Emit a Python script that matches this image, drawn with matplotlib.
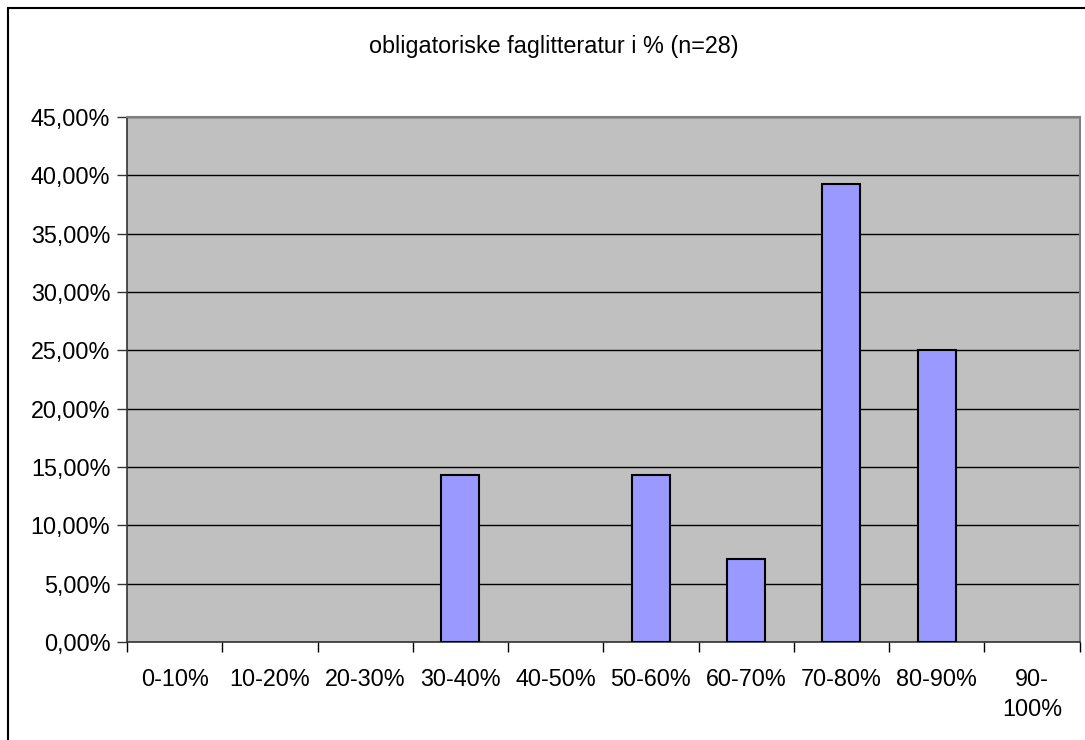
import matplotlib
matplotlib.use('Agg')
import matplotlib.pyplot as plt
import matplotlib.patches as patches
from matplotlib.ticker import FuncFormatter, MultipleLocator

# kategorier og andel (%) av 28 svar
categories = ['0-10%', '10-20%', '20-30%', '30-40%', '40-50%',
              '50-60%', '60-70%', '70-80%', '80-90%', '90-\n100%']
shares = [0.0, 0.0, 0.0, 14.29, 0.0, 14.29, 7.14, 39.29, 25.0, 0.0]
title = 'obligatoriske faglitteratur i % (n=28)'

plt.rcParams['font.family'] = ['Liberation Sans', 'DejaVu Sans']
FS = 16.8

W, H = 1085, 740
fig = plt.figure(figsize=(W / 100, H / 100), dpi=100)

# plotområde i piksler
left, right, top, bottom = 127, 1079.5, 117, 642
ax = fig.add_axes([left / W, 1 - bottom / H, (right - left) / W, (bottom - top) / H])
ax.set_facecolor('#C0C0C0')

x = list(range(len(categories)))
# tomme kategorier får ingen kantlinje (som i Excel)
lw = [1.5 if v > 0 else 0 for v in shares]
ax.bar(x, shares, width=0.4, color='#9999FF', edgecolor='black', linewidth=lw, zorder=3)

ax.set_xlim(-0.5, len(categories) - 0.5)
ax.set_ylim(0, 45)
ax.yaxis.set_major_locator(MultipleLocator(5))
ax.yaxis.set_major_formatter(FuncFormatter(lambda v, p: f'{v:.2f}%'.replace('.', ',')))
ax.grid(axis='y', color='black', linewidth=1, zorder=1)

# akse-ticks på kategorigrenser, etiketter i midten
ax.set_xticks([i - 0.5 for i in range(len(categories) + 1)])
ax.set_xticklabels([])
ax.set_xticks(x, minor=True)
ax.set_xticklabels(categories, minor=True)
ax.tick_params(axis='x', which='major', direction='out', length=7, width=1, color='black')
ax.tick_params(axis='x', which='minor', length=0, pad=19, labelsize=FS)
ax.tick_params(axis='y', direction='out', length=7, width=1, color='#333333', pad=5, labelsize=FS)
for lbl in ax.get_xticklabels(minor=True):
    lbl.set_linespacing(1.35)
    lbl.set_verticalalignment('top')

for s in ['top', 'right']:
    ax.spines[s].set_color('#808080')
    ax.spines[s].set_linewidth(1.5)
for s in ['left', 'bottom']:
    ax.spines[s].set_color('#333333')
    ax.spines[s].set_linewidth(1.2)

fig.text(554 / W, 1 - 47 / H, title, ha='center', va='center', fontsize=FS)

# ramme rundt diagrammet
fig.patches.append(patches.Rectangle((8 / W, -0.1), 2, 1.1 - 8 / H, transform=fig.transFigure,
                                     fill=False, edgecolor='black', linewidth=1.5, clip_on=False))

fig.savefig('out.png', dpi=100)
